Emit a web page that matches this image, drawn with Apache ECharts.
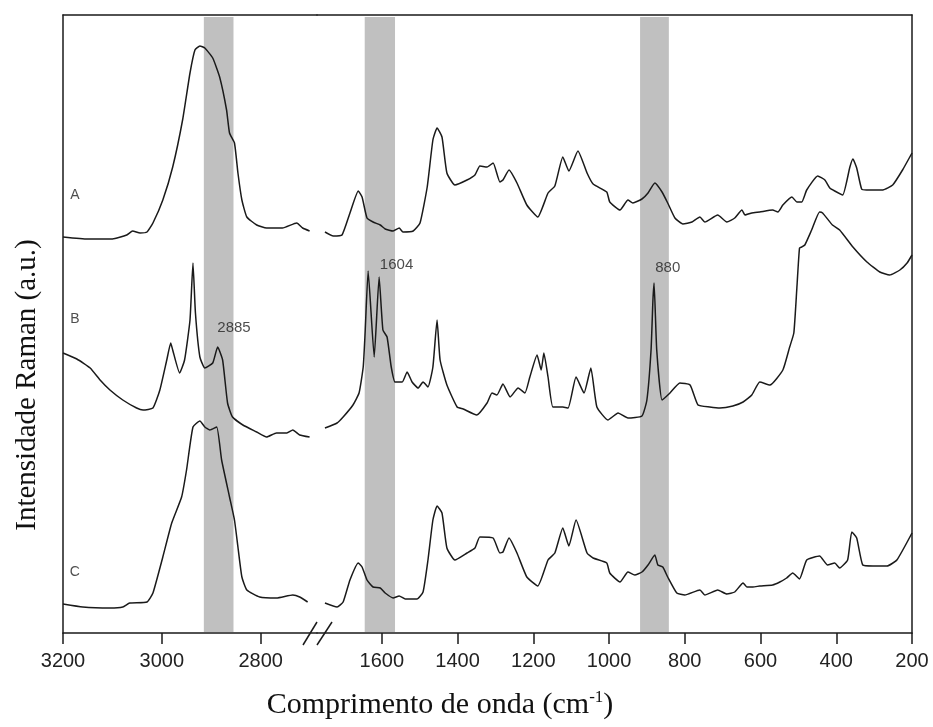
<!DOCTYPE html>
<html>
<head>
<meta charset="utf-8">
<title>Raman</title>
<script src="https://cdn.jsdelivr.net/npm/echarts@6/dist/echarts.min.js"></script>
<style>
  html, body { margin: 0; padding: 0; background: #fff; }
</style>
</head>
<body>
<div id="raman" style="width:933px;height:727px;"></div>
<script>
// tick labels of the broken wavenumber axis
var ticksHigh = [3200, 3000, 2800];
var ticksLow = [1600, 1400, 1200, 1000, 800, 600, 400, 200];

// highlighted bands [from, to] in cm-1 and the peak names written on them
var bands = [[2915, 2855], [1645, 1565], [918, 842]];
var peaks = ["2885", "1604", "880"];
var names = ["A", "B", "C"];

// spectra (offset intensity, a.u.) : [wavenumber, intensity]
var aHigh = [[3200,396],[3150,394],[3100,394],[3071,398],[3059,402],[3044,400],[3030,401],[3018,410],[2998,433],[2978,466],[2958,513],[2943,560],[2933,583],[2923,587],[2913,585],[2897,575],[2883,556],[2869,523],[2863,500],[2853,490],[2846,460],[2838,433],[2828,416],[2808,408],[2788,405],[2756,405],[2727,410],[2715,405],[2701,402]];
var aLow = [[1750,401],[1728,397],[1705,398],[1684,420],[1662,442],[1652,436],[1639,415],[1623,411],[1604,408],[1591,404],[1570,402],[1554,405],[1544,401],[1517,402],[1499,410],[1480,446],[1465,493],[1454,505],[1441,496],[1428,460],[1407,448],[1375,453],[1354,458],[1341,467],[1322,466],[1306,470],[1288,451],[1280,453],[1264,463],[1243,450],[1217,428],[1188,416],[1161,440],[1143,447],[1122,476],[1106,462],[1082,482],[1058,460],[1042,449],[1006,441],[998,431],[971,423],[950,433],[937,430],[913,434],[897,440],[879,450],[860,441],[845,430],[826,415],[805,409],[781,411],[760,416],[747,411],[713,418],[689,411],[668,415],[649,423],[641,418],[623,420],[602,421],[568,423],[554,421],[541,428],[517,436],[504,431],[491,431],[478,443],[449,457],[430,453],[417,445],[404,442],[383,438],[364,466],[356,474],[346,465],[333,444],[320,443],[277,443],[251,448],[225,463],[200,480]];

var bHigh = [[3200,280],[3172,274],[3145,265],[3125,253],[3105,243],[3079,233],[3051,225],[3038,223],[3018,225],[3004,243],[2990,273],[2982,290],[2978,283],[2964,260],[2954,273],[2943,313],[2937,370],[2932,320],[2923,276],[2913,265],[2897,270],[2887,286],[2877,273],[2867,230],[2857,216],[2836,208],[2808,201],[2788,196],[2768,200],[2747,200],[2735,203],[2721,198],[2701,196]];
var bLow = [[1750,205],[1718,210],[1702,216],[1676,228],[1660,240],[1649,266],[1644,300],[1636,362],[1620,276],[1607,356],[1597,303],[1586,296],[1575,266],[1565,251],[1546,251],[1533,261],[1520,251],[1504,245],[1491,251],[1478,246],[1465,266],[1454,313],[1446,273],[1428,248],[1401,226],[1385,224],[1349,218],[1322,230],[1309,240],[1296,238],[1280,249],[1261,236],[1240,245],[1222,240],[1209,256],[1190,278],[1179,263],[1172,280],[1161,256],[1148,226],[1122,226],[1108,225],[1087,256],[1066,240],[1048,265],[1032,226],[1003,213],[976,220],[950,215],[913,217],[900,233],[889,283],[884,333],[881,350],[874,283],[860,233],[839,240],[813,250],[786,248],[765,228],[734,226],[707,225],[673,227],[646,231],[623,238],[602,251],[575,248],[541,263],[523,286],[512,300],[504,345],[497,385],[491,386],[483,388],[465,403],[444,421],[436,420],[410,408],[391,403],[356,386],[319,371],[285,361],[259,358],[232,363],[213,370],[200,378]];

var cHigh = [[3200,29],[3160,26],[3105,25],[3079,26],[3065,30],[3030,31],[3018,40],[2998,76],[2980,110],[2960,136],[2950,163],[2937,206],[2923,212],[2913,206],[2903,203],[2889,206],[2879,173],[2863,136],[2853,113],[2846,86],[2838,56],[2828,43],[2802,36],[2768,35],[2735,38],[2721,36],[2705,31]];
var cLow = [[1750,30],[1718,26],[1702,31],[1684,53],[1662,70],[1652,66],[1639,53],[1623,46],[1604,45],[1591,40],[1570,35],[1554,37],[1538,34],[1507,34],[1491,41],[1478,73],[1465,113],[1454,127],[1441,120],[1428,85],[1407,73],[1375,80],[1354,85],[1341,96],[1306,95],[1288,80],[1280,81],[1264,95],[1243,80],[1217,56],[1188,47],[1161,73],[1143,80],[1122,105],[1106,87],[1087,113],[1058,80],[1042,75],[1006,70],[998,60],[971,51],[950,61],[932,58],[913,61],[897,68],[879,78],[871,68],[858,66],[845,56],[821,40],[800,38],[760,43],[747,38],[713,43],[689,39],[668,41],[646,50],[636,46],[620,46],[602,47],[568,48],[549,51],[531,55],[515,60],[497,54],[478,73],[444,77],[423,68],[404,70],[391,65],[370,73],[359,101],[346,95],[330,68],[303,67],[266,67],[240,73],[200,100]];

var chart = echarts.init(document.getElementById("raman"));

var ink = "#1a1a1a";
var sans = "Liberation Sans";
var serif = "Liberation Serif";

function spectrum(data, g) {
  return {
    type: "line",
    xAxisIndex: g,
    yAxisIndex: g,
    data: data,
    showSymbol: false,
    smooth: 0.15,
    z: 3,
    lineStyle: { color: ink, width: 1.5 },
    silent: true
  };
}

function bandArea(list, g) {
  return {
    type: "line",
    xAxisIndex: g,
    yAxisIndex: g,
    data: [],
    z: 1,
    markArea: {
      silent: true,
      itemStyle: { color: "#c0c0c0" },
      data: list.map(function (b) {
        return [{ xAxis: b[0], yAxis: 1 }, { xAxis: b[1], yAxis: 616 }];
      })
    }
  };
}

function bottomAxis(g, min, max, ticks) {
  return {
    type: "value",
    gridIndex: g,
    min: min,
    max: max,
    inverse: true,
    position: "bottom",
    splitLine: { show: false },
    axisLine: { show: true, onZero: false, lineStyle: { color: ink, width: 1.5 } },
    axisTick: { show: true, inside: false, length: 11, customValues: ticks, lineStyle: { color: ink, width: 1.5 } },
    axisLabel: {
      show: true,
      customValues: ticks,
      margin: 18,
      fontFamily: sans,
      fontSize: 20,
      color: "#222",
      formatter: function (v) { return String(v); }
    }
  };
}

function topAxis(g, min, max) {
  return {
    type: "value",
    gridIndex: g,
    min: min,
    max: max,
    inverse: true,
    position: "top",
    splitLine: { show: false },
    axisLine: { show: true, onZero: false, lineStyle: { color: ink, width: 1.5 } },
    axisTick: { show: false },
    axisLabel: { show: false }
  };
}

function sideAxis(g, pos, line) {
  return {
    type: "value",
    gridIndex: g,
    min: 0,
    max: 618,
    position: pos,
    splitLine: { show: false },
    axisLine: { show: line, onZero: false, lineStyle: { color: ink, width: 1.5 } },
    axisTick: { show: false },
    axisLabel: { show: false }
  };
}

// small text marks placed in data space
var tagStyle = { show: true, position: "inside", fontFamily: sans, color: "#222" };
function textMarks(g, size, data) {
  return {
    type: "scatter",
    xAxisIndex: g,
    yAxisIndex: g,
    symbolSize: 1,
    z: 5,
    silent: true,
    itemStyle: { color: "transparent" },
    label: Object.assign({ fontSize: size, formatter: function (p) { return p.value[2]; } }, tagStyle),
    data: data
  };
}

var option = {
  backgroundColor: "#fff",
  animation: false,
  grid: [
    { left: 63, top: 15, width: 254, bottom: 94 },
    { left: 317, top: 15, right: 21, bottom: 94 }
  ],
  xAxis: [
    bottomAxis(0, 2686, 3200, ticksHigh),
    bottomAxis(1, 200, 1771, ticksLow),
    topAxis(0, 2686, 3200),
    topAxis(1, 200, 1771)
  ],
  yAxis: [
    sideAxis(0, "left", true),
    sideAxis(1, "right", true)
  ],
  series: [
    bandArea([bands[0]], 0),
    bandArea([bands[1], bands[2]], 1),
    spectrum(aHigh, 0), spectrum(aLow, 1),
    spectrum(bHigh, 0), spectrum(bLow, 1),
    spectrum(cHigh, 0), spectrum(cLow, 1),
    textMarks(0, 14, [[3176, 438, names[0]], [3176, 314, names[1]], [3176, 61, names[2]]]),
    textMarks(0, 15, [[2854, 305, peaks[0]]]),
    textMarks(1, 15, [[1561, 368, peaks[1]], [845, 365, peaks[2]]])
  ],
  graphic: [
    // axis break marks
    { type: "line", z: 10, shape: { x1: 303, y1: 645, x2: 317, y2: 622 }, style: { stroke: ink, lineWidth: 1.5 } },
    { type: "line", z: 10, shape: { x1: 317, y1: 645, x2: 332, y2: 622 }, style: { stroke: ink, lineWidth: 1.5 } },
    {
      type: "text",
      x: 440,
      y: 705,
      style: {
        text: "{t|Comprimento de onda (cm}{s|-1}{t|)}",
        align: "center",
        verticalAlign: "middle",
        rich: {
          t: { fontFamily: serif, fontSize: 30, fill: "#111" },
          s: { fontFamily: serif, fontSize: 17, fill: "#111", verticalAlign: "top", padding: [0, 0, 14, 0] }
        }
      }
    },
    {
      type: "text",
      x: 27,
      y: 385,
      rotation: Math.PI / 2,
      style: {
        text: "Intensidade Raman (a.u.)",
        align: "center",
        verticalAlign: "middle",
        fontFamily: serif,
        fontSize: 29,
        fill: "#111"
      }
    }
  ]
};

chart.setOption(option);
</script>
</body>
</html>
